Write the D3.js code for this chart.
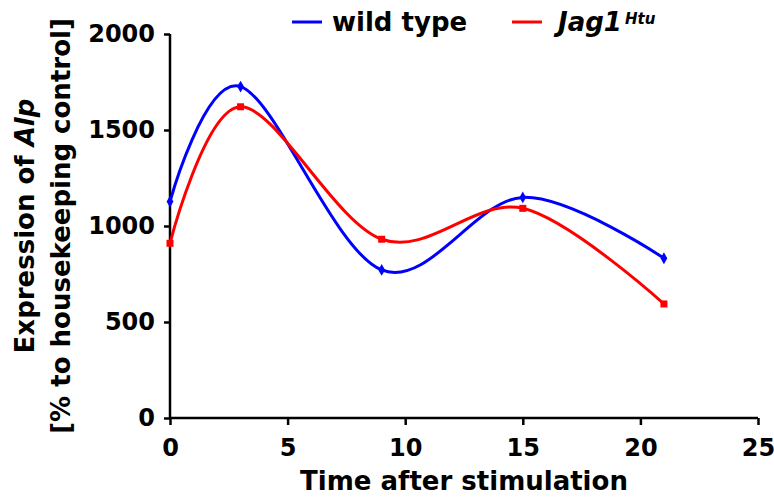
<!DOCTYPE html>
<html>
<head>
<meta charset="utf-8">
<script src="https://cdn.jsdelivr.net/npm/d3@7"></script>
<style>
  html, body { margin: 0; padding: 0; background: #fff; }
  svg { display: block; }
  text { font-family: "DejaVu Sans", Verdana, sans-serif; font-weight: bold; fill: #000; }
</style>
</head>
<body>
<svg id="chart" width="774" height="497"></svg>
<script>
// Time points (x) and expression values per genotype
const timePoints = [0, 3, 9, 15, 21];
const wildTypeValues = [1127, 1726, 771, 1149, 832];
const jag1Values = [910, 1621, 931, 1092, 594];

const xTicks = [0, 5, 10, 15, 20, 25];
const yTicks = [0, 500, 1000, 1500, 2000];

const seriesNames = ["wild type", "Jag1"];
const seriesColors = ["#0000ff", "#ff0000"];

const svg = d3.select("#chart");

const x = d3.scaleLinear().domain([0, 25]).range([170, 758]);
const y = d3.scaleLinear().domain([0, 2000]).range([418, 34]);

// Y axis
const yAxis = svg.append("g")
  .attr("transform", `translate(${x(0)},0)`)
  .call(d3.axisLeft(y).tickValues(yTicks).tickSize(6).tickFormat(d3.format("d")));
yAxis.select(".domain").attr("stroke", "#000").attr("stroke-width", 2.5)
  .attr("d", `M0,${y(0)}V${y(2000)}`);
yAxis.selectAll(".tick line").attr("stroke", "#000").attr("stroke-width", 2.5);
yAxis.selectAll(".tick text")
  .attr("x", -15).attr("dy", "0.33em")
  .style("font-size", "24px").style("font-family", null).attr("font-family", null)
  .attr("fill", "#000");
yAxis.attr("font-family", null).attr("font-size", null);

// X axis
const xAxis = svg.append("g")
  .attr("transform", `translate(0,${y(0)})`)
  .call(d3.axisBottom(x).tickValues(xTicks).tickSize(7).tickFormat(d3.format("d")));
xAxis.select(".domain").attr("stroke", "#000").attr("stroke-width", 2.5)
  .attr("d", `M${x(0)},0H${x(25)}`);
xAxis.selectAll(".tick line").attr("stroke", "#000").attr("stroke-width", 2.5);
xAxis.selectAll(".tick text")
  .attr("y", 38).attr("dy", 0)
  .style("font-size", "24px").attr("fill", "#000");
xAxis.attr("font-family", null).attr("font-size", null);

// Axis titles
svg.append("text")
  .attr("x", (x(0) + x(25)) / 2).attr("y", 490)
  .attr("text-anchor", "middle")
  .style("font-size", "26px")
  .text("Time after stimulation");

const yTitle = svg.append("g")
  .attr("transform", `translate(0,${(y(0) + y(2000)) / 2}) rotate(-90)`);
const line1 = yTitle.append("text")
  .attr("x", 0).attr("y", 33.5)
  .attr("text-anchor", "middle")
  .style("font-size", "26px");
line1.append("tspan").text("Expression of ");
line1.append("tspan").style("font-style", "italic").text("Alp");
yTitle.append("text")
  .attr("x", 0).attr("y", 70)
  .attr("text-anchor", "middle")
  .style("font-size", "26px")
  .text("[% to housekeeping control]");

// Smoothed series lines
const seriesData = [wildTypeValues, jag1Values].map(vals =>
  vals.map((v, i) => ({ t: timePoints[i], v }))
);

const line = d3.line()
  .x(d => x(d.t))
  .y(d => y(d.v))
  .curve(d3.curveCardinal.tension(0));

seriesData.forEach((pts, si) => {
  svg.append("path")
    .datum(pts)
    .attr("fill", "none")
    .attr("stroke", seriesColors[si])
    .attr("stroke-width", 3)
    .attr("d", line);
});

// Markers: diamonds for wild type, squares for Jag1
svg.append("g").selectAll("path")
  .data(seriesData[0])
  .join("path")
  .attr("transform", d => `translate(${x(d.t)},${y(d.v)})`)
  .attr("d", d3.symbol(d3.symbolDiamond, 40))
  .attr("fill", seriesColors[0]);

svg.append("g").selectAll("rect")
  .data(seriesData[1])
  .join("rect")
  .attr("x", d => x(d.t) - 3.5)
  .attr("y", d => y(d.v) - 3.5)
  .attr("width", 7).attr("height", 7)
  .attr("fill", seriesColors[1]);

// Legend
const legendItems = [
  { x: 292, textX: 332 },
  { x: 512, textX: 558 }
];
legendItems.forEach((item, i) => {
  svg.append("line")
    .attr("x1", item.x).attr("x2", item.x + 30)
    .attr("y1", 22).attr("y2", 22)
    .attr("stroke", seriesColors[i]).attr("stroke-width", 3);
});
svg.append("text")
  .attr("x", legendItems[0].textX).attr("y", 31)
  .style("font-size", "26px")
  .text(seriesNames[0]);
const jagLabel = svg.append("text")
  .attr("x", legendItems[1].textX).attr("y", 31)
  .style("font-size", "26px")
  .style("font-style", "italic");
jagLabel.append("tspan").text(seriesNames[1]);
jagLabel.append("tspan")
  .attr("dy", -7)
  .attr("dx", 3)
  .style("font-size", "15px")
  .text("Htu");
</script>
</body>
</html>
